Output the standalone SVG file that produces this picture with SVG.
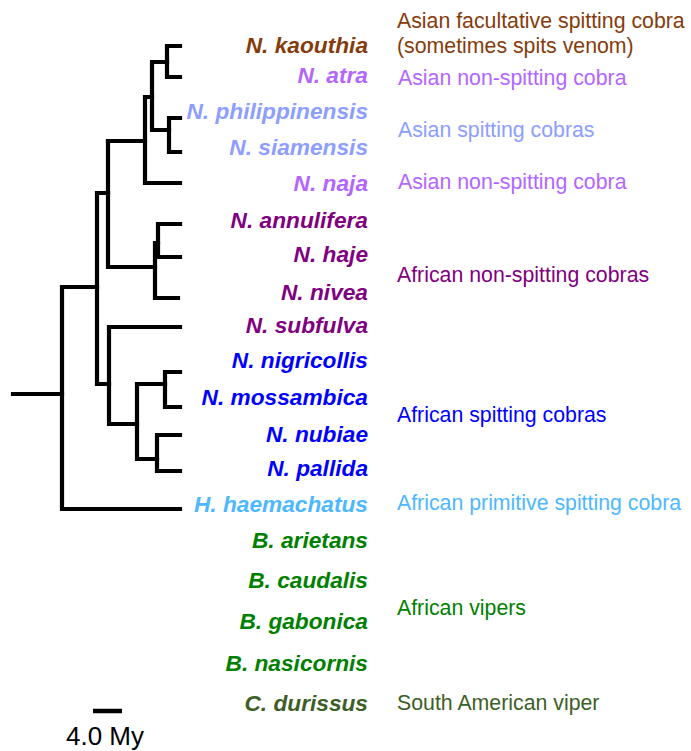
<svg xmlns="http://www.w3.org/2000/svg" width="691" height="751" viewBox="0 0 691 751">
<style>
.tx{font-family:"Liberation Sans",Arial,sans-serif;font-weight:bold;font-style:italic;font-size:22.7px;text-anchor:end}
.an{font-family:"Liberation Sans",Arial,sans-serif;font-size:21.3px}
.br{fill:none;stroke:#000;stroke-width:4.2;stroke-linejoin:miter;stroke-linecap:square}
.brown{fill:#843C0C}.lpur{fill:#B266FF}.peri{fill:#8C9EFF}.pur{fill:#800080}.blu{fill:#0000FF}.lblu{fill:#4DB8FF}.grn{fill:#008000}.olv{fill:#3D5E27}
</style>
<rect width="691" height="751" fill="#fff"/>
<g id="connectors">
<path class="br" d="M180,46 H167 V77 H180"/>
<path class="br" d="M180,118 H169 V152 H180"/>
<path class="br" d="M167,62 H152 V130 H169"/>
<path class="br" d="M152,97 H145 V183 H180"/>
<path class="br" d="M145,141 H108"/>
<path class="br" d="M180,224 H158 V257 H180"/>
<path class="br" d="M158,243 H155 V298 H178"/>
<path class="br" d="M155,267 H108 V141"/>
<path class="br" d="M108,193 H97 V384 H109"/>
<path class="br" d="M180,327 H109 V424 H137"/>
<path class="br" d="M165,384 H137 V459 H157"/>
<path class="br" d="M180,372 H165 V407 H180"/>
<path class="br" d="M180,435 H157 V471 H180"/>
<path class="br" d="M97,287 H62 V509 H180"/>
<path class="br" d="M13,394 H62"/>
</g>
<g id="taxa">
<g id="n-kaouthia"><text class="tx brown" x="368" y="53">N. kaouthia</text></g>
<g id="n-atra"><text class="tx lpur" x="368" y="83">N. atra</text></g>
<g id="n-philippinensis"><text class="tx peri" x="368" y="119">N. philippinensis</text></g>
<g id="n-siamensis"><text class="tx peri" x="368" y="155">N. siamensis</text></g>
<g id="n-naja"><text class="tx lpur" x="368" y="191">N. naja</text></g>
<g id="n-annulifera"><text class="tx pur" x="368" y="228">N. annulifera</text></g>
<g id="n-haje"><text class="tx pur" x="368" y="262">N. haje</text></g>
<g id="n-nivea"><text class="tx pur" x="368" y="300">N. nivea</text></g>
<g id="n-subfulva"><text class="tx pur" x="368" y="333">N. subfulva</text></g>
<g id="n-nigricollis"><text class="tx blu" x="368" y="368">N. nigricollis</text></g>
<g id="n-mossambica"><text class="tx blu" x="368" y="405">N. mossambica</text></g>
<g id="n-nubiae"><text class="tx blu" x="368" y="442">N. nubiae</text></g>
<g id="n-pallida"><text class="tx blu" x="368" y="476">N. pallida</text></g>
<g id="h-haemachatus"><text class="tx lblu" x="368" y="512">H. haemachatus</text></g>
<g id="b-arietans"><text class="tx grn" x="368" y="548">B. arietans</text></g>
<g id="b-caudalis"><text class="tx grn" x="368" y="588">B. caudalis</text></g>
<g id="b-gabonica"><text class="tx grn" x="368" y="629">B. gabonica</text></g>
<g id="b-nasicornis"><text class="tx grn" x="368" y="671">B. nasicornis</text></g>
<g id="c-durissus"><text class="tx olv" x="368" y="711">C. durissus</text></g>
</g>
<g id="annotations">
<g id="a-facultative"><text class="an brown" x="397" y="28">Asian facultative spitting cobra</text><text class="an brown" x="397" y="53">(sometimes spits venom)</text></g>
<g id="a-asian-nonspit-1"><text class="an lpur" x="398" y="85">Asian non-spitting cobra</text></g>
<g id="a-asian-spit"><text class="an peri" x="398" y="137">Asian spitting cobras</text></g>
<g id="a-asian-nonspit-2"><text class="an lpur" x="398" y="189">Asian non-spitting cobra</text></g>
<g id="a-african-nonspit"><text class="an pur" x="397" y="282">African non-spitting cobras</text></g>
<g id="a-african-spit"><text class="an blu" x="397" y="422">African spitting cobras</text></g>
<g id="a-african-primitive"><text class="an lblu" x="397" y="510">African primitive spitting cobra</text></g>
<g id="a-vipers"><text class="an grn" x="397" y="615">African vipers</text></g>
<g id="a-sa-viper"><text class="an olv" x="397" y="710">South American viper</text></g>
</g>
<g id="scale">
<path d="M93,711 H122" stroke="#000" stroke-width="4.5"/>
<text x="105" y="745" font-family="Liberation Sans, Arial, sans-serif" font-size="26" text-anchor="middle" fill="#000">4.0 My</text>
</g>
</svg>
